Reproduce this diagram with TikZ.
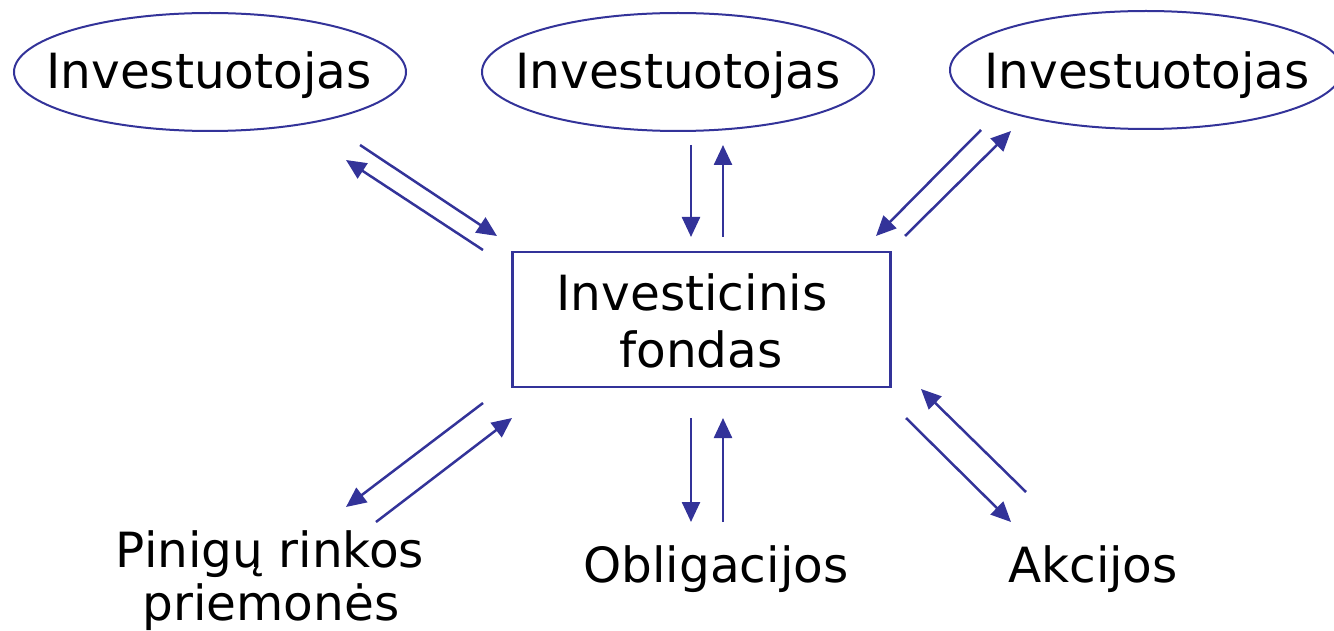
\documentclass[tikz,border=0pt]{standalone}
\usepackage{fontspec}
\setmainfont{DejaVu Sans}
\usetikzlibrary{arrows.meta,shapes.geometric}
\definecolor{dblue}{HTML}{333399}
\tikzset{
  inv/.style={draw=dblue,line width=2pt,ellipse,minimum width=392pt,minimum height=118pt,inner sep=0pt},
  fund/.style={draw=dblue,line width=2.3pt,rectangle,minimum width=378pt,minimum height=135pt,inner sep=0pt},
  lbl/.style={font=\fontsize{48.5}{55}\selectfont,anchor=base,inner sep=0pt},
  arr/.style={draw=dblue,line width=2.5pt,-{Triangle[length=20pt,width=18pt]}},
}
\begin{document}
\begin{tikzpicture}[x=1pt,y=-1pt]
\useasboundingbox (0,0) rectangle (1334,631);
% investors
\node[inv] (e1) at (210,72) {};
\node[inv] (e2) at (678,72) {};
\node[inv] (e3) at (1146,70) {};
\node[lbl] (t1) at (209,89) {Investuotojas};
\node[lbl] (t2) at (678,89) {Investuotojas};
\node[lbl] (t3) at (1147,89) {Investuotojas};
% fund
\node[fund] (f) at (701.5,319.5) {};
\node[lbl] (f1) at (692,310) {Investicinis};
\node[lbl] (f2) at (701,367) {fondas};
% bottom labels
\node[lbl] (p1) at (270,567) {Pinigų rinkos};
\node[lbl] (p2) at (271,620) {priemonės};
\node[lbl] (o) at (716,582) {Obligacijos};
\node[lbl] (a) at (1093,582) {Akcijos};
% connector endpoints
\coordinate (a1s) at (360,145); \coordinate (a1e) at (497,236);
\coordinate (a2s) at (483,250); \coordinate (a2e) at (346,160);
\coordinate (b1s) at (691,145); \coordinate (b1e) at (691,237);
\coordinate (b2s) at (723,237); \coordinate (b2e) at (723,145);
\coordinate (c1s) at (981,130); \coordinate (c1e) at (876,236);
\coordinate (c2s) at (905,236); \coordinate (c2e) at (1011,131);
\coordinate (d1s) at (483,403); \coordinate (d1e) at (346,507);
\coordinate (d2s) at (376,522); \coordinate (d2e) at (512,418);
\coordinate (g1s) at (691,418); \coordinate (g1e) at (691,522);
\coordinate (g2s) at (723,522); \coordinate (g2e) at (723,418);
\coordinate (h1s) at (906,418); \coordinate (h1e) at (1011,522);
\coordinate (h2s) at (1026,492); \coordinate (h2e) at (921,389);
\draw[arr] (a1s) -- (a1e);
\draw[arr] (a2s) -- (a2e);
\draw[arr] (b1s) -- (b1e);
\draw[arr] (b2s) -- (b2e);
\draw[arr] (c1s) -- (c1e);
\draw[arr] (c2s) -- (c2e);
\draw[arr] (d1s) -- (d1e);
\draw[arr] (d2s) -- (d2e);
\draw[arr] (g1s) -- (g1e);
\draw[arr] (g2s) -- (g2e);
\draw[arr] (h1s) -- (h1e);
\draw[arr] (h2s) -- (h2e);
\end{tikzpicture}
\end{document}
